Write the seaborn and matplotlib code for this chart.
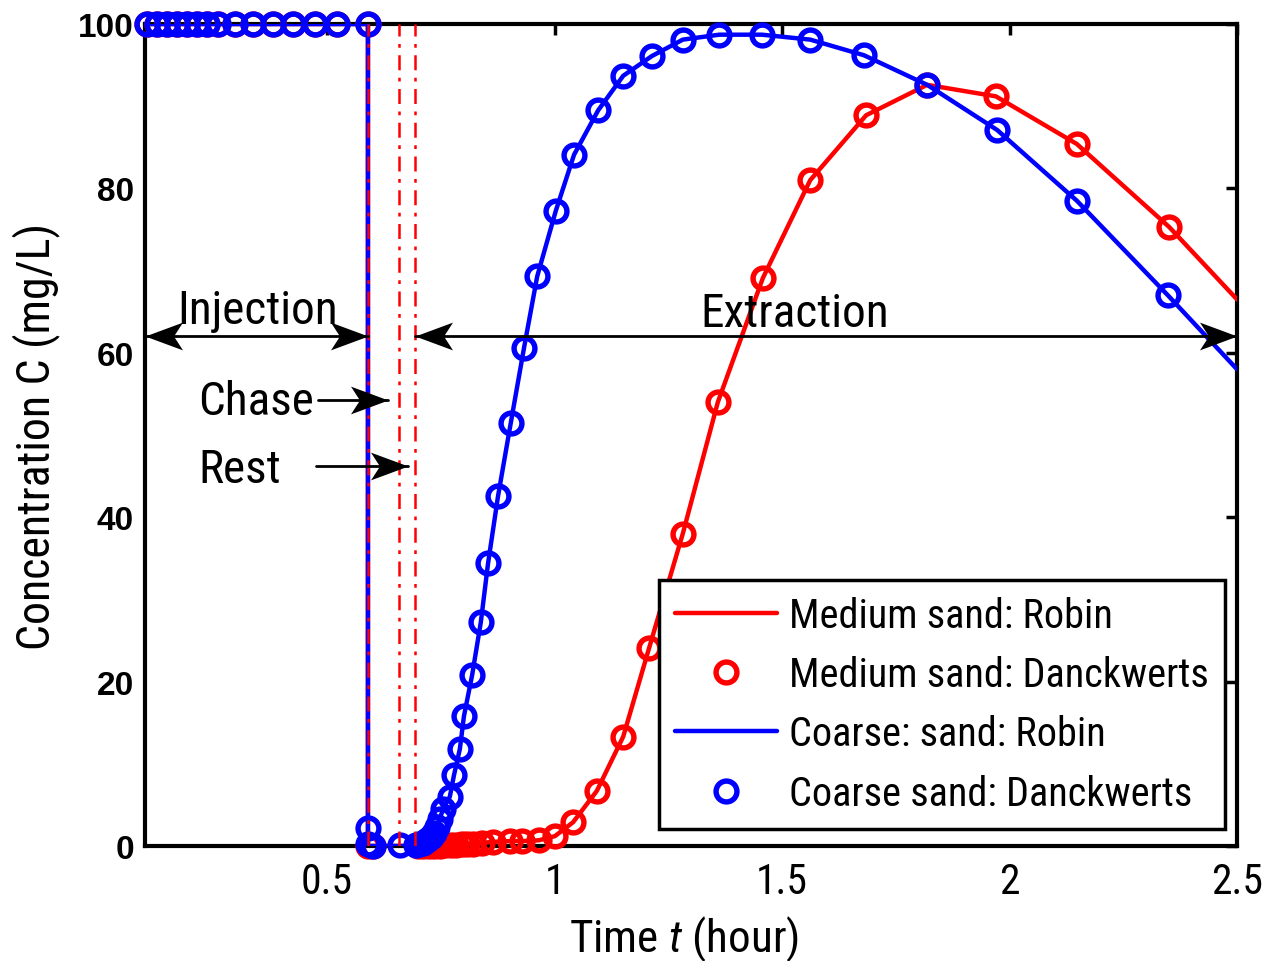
import matplotlib
matplotlib.use("Agg")
import matplotlib.pyplot as plt
import seaborn as sns
from matplotlib import font_manager
from matplotlib.path import Path
from matplotlib.lines import Line2D

# ---------------- data ----------------
coarse_dw_t = [0.104, 0.126, 0.148, 0.170, 0.192, 0.214, 0.236, 0.260, 0.297, 0.337,
               0.381, 0.425, 0.473, 0.523, 0.590,
               0.590, 0.590, 0.600, 0.660, 0.695, 0.703, 0.712, 0.720, 0.728, 0.735,
               0.742, 0.748, 0.755, 0.770, 0.779, 0.792, 0.801, 0.819, 0.838, 0.854,
               0.876, 0.904, 0.933, 0.962, 1.003, 1.043, 1.096, 1.151, 1.214, 1.282,
               1.362, 1.456, 1.562, 1.680, 1.819, 1.973, 2.148, 2.348]
coarse_dw_c = [100, 100, 100, 100, 100, 100, 100, 100, 100, 100,
               100, 100, 100, 100, 100,
               2.2, 0.3, 0.0, 0.1, 0.1, 0.2, 0.4, 0.7, 1.1, 1.6,
               2.3, 3.3, 4.5, 6.0, 8.6, 11.8, 15.8, 20.8, 27.2, 34.4,
               42.6, 51.5, 60.6, 69.3, 77.3, 84.1, 89.5, 93.7, 96.1, 98.1,
               98.7, 98.7, 98.1, 96.2, 92.6, 87.1, 78.5, 67.0]

coarse_robin_t = [0.100, 0.590, 0.590, 0.690, 0.703, 0.720, 0.735, 0.748, 0.755, 0.770,
                  0.779, 0.792, 0.801, 0.819, 0.838, 0.854, 0.876, 0.904, 0.933, 0.962,
                  1.003, 1.043, 1.096, 1.151, 1.214, 1.282, 1.362, 1.456, 1.562, 1.680,
                  1.819, 1.973, 2.148, 2.348, 2.500]
coarse_robin_c = [100, 100, 0, 0, 0.1, 0.7, 1.6, 3.3, 4.5, 6.0,
                  8.6, 11.8, 15.8, 20.8, 27.2, 34.4, 42.6, 51.5, 60.6, 69.3,
                  77.3, 84.1, 89.5, 93.7, 96.1, 98.1, 98.7, 98.7, 98.1, 96.2,
                  92.6, 87.1, 78.5, 67.0, 58.0]

medium_dw_t = [0.104, 0.126, 0.148, 0.170, 0.192, 0.214, 0.236, 0.260, 0.297, 0.337,
               0.381, 0.425, 0.473, 0.523, 0.590,
               0.590, 0.600, 0.700, 0.712, 0.724, 0.736, 0.748, 0.760, 0.772, 0.784,
               0.796, 0.808, 0.821, 0.840, 0.865, 0.902, 0.929, 0.966, 1.001, 1.041,
               1.093, 1.151, 1.208, 1.282, 1.359, 1.458, 1.562, 1.685, 1.819, 1.970,
               2.148, 2.351]
medium_dw_c = [100, 100, 100, 100, 100, 100, 100, 100, 100, 100,
               100, 100, 100, 100, 100,
               0.0, 0.0, 0.0, 0.0, 0.0, 0.0, 0.0, 0.1, 0.1, 0.1,
               0.2, 0.2, 0.3, 0.4, 0.5, 0.6, 0.6, 0.7, 1.2, 2.9,
               6.7, 13.3, 24.1, 38.0, 54.0, 69.1, 81.0, 88.9, 92.6, 91.2,
               85.4, 75.3]

medium_robin_t = [0.100, 0.590, 0.590, 0.760, 0.821, 0.865, 0.902, 0.929, 0.966, 1.001,
                  1.041, 1.093, 1.151, 1.208, 1.282, 1.359, 1.458, 1.562, 1.685, 1.819,
                  1.970, 2.148, 2.351, 2.500]
medium_robin_c = [100, 100, 0, 0, 0.3, 0.5, 0.6, 0.6, 0.7, 1.2,
                  2.9, 6.7, 13.3, 24.1, 38.0, 54.0, 69.1, 81.0, 88.9, 92.6,
                  91.2, 85.4, 75.3, 66.5]

phase_bounds = [0.590, 0.658, 0.693]   # end of injection, chase, rest
x_ticks = [0.5, 1, 1.5, 2, 2.5]
x_tick_labels = ["0.5", "1", "1.5", "2", "2.5"]
y_ticks = [0, 20, 40, 60, 80, 100]
legend_labels = ["Medium sand: Robin", "Medium sand: Danckwerts",
                 "Coarse: sand: Robin", "Coarse sand: Danckwerts"]

# ---------------- fonts ----------------
sns.set_style("white")
entries = font_manager.fontManager.ttflist
names = {f.name for f in entries}
narrow_family, narrow_stretch, fs = "Liberation Sans", "normal", 0.85
picked = False
for cand in ["Liberation Sans Narrow", "Arial Narrow", "Nimbus Sans Narrow",
             "Roboto Condensed", "Open Sans Condensed", "DejaVu Sans Condensed"]:
    if cand in names:
        narrow_family, narrow_stretch = cand, "normal"
        fs = 1.0 if cand != "DejaVu Sans Condensed" else 0.87
        picked = True
        break
if not picked:
    for fam in ["Roboto", "Open Sans", "Noto Sans", "DejaVu Sans"]:
        cond = [f for f in entries if f.name == fam and str(f.stretch) in
                ("condensed", "semi-condensed", "extra-condensed")
                and f.style == "normal"]
        if cond:
            narrow_family, narrow_stretch = fam, cond[0].stretch
            fs = 1.0 if fam in ("Roboto", "Open Sans") else 0.87
            break

plt.rcParams["font.family"] = [narrow_family, "DejaVu Sans"]
plt.rcParams["font.stretch"] = narrow_stretch
for k in ["text.color", "axes.labelcolor", "xtick.color", "ytick.color", "axes.edgecolor"]:
    plt.rcParams[k] = "black"
plt.rcParams["mathtext.fontset"] = "custom"
plt.rcParams["mathtext.rm"] = narrow_family
plt.rcParams["mathtext.it"] = narrow_family + ":italic"
bold_font = "Liberation Sans" if "Liberation Sans" in names else "DejaVu Sans"

# ---------------- figure ----------------
fig = plt.figure(figsize=(12.74, 9.62), dpi=100)
ax = fig.add_axes([145 / 1274, 1 - 847 / 962, 1092 / 1274, 822 / 962])

RED, BLUE = "#ff0000", "#0000ff"
LW, MS, MEW = 3.2, 15, 3.9

sns.lineplot(x=medium_robin_t, y=medium_robin_c, ax=ax, color=RED, lw=LW,
             sort=False, estimator=None, zorder=3)
sns.lineplot(x=medium_dw_t, y=medium_dw_c, ax=ax, sort=False, estimator=None,
             linestyle="none", marker="o", markersize=MS, markerfacecolor="none",
             markeredgecolor=RED, markeredgewidth=MEW, color=RED, zorder=4, clip_on=False)
sns.lineplot(x=coarse_robin_t, y=coarse_robin_c, ax=ax, color=BLUE, lw=LW,
             sort=False, estimator=None, zorder=5)
sns.lineplot(x=coarse_dw_t, y=coarse_dw_c, ax=ax, sort=False, estimator=None,
             linestyle="none", marker="o", markersize=MS, markerfacecolor="none",
             markeredgecolor=BLUE, markeredgewidth=MEW, color=BLUE, zorder=6, clip_on=False)

for xb in phase_bounds:
    ax.axvline(xb, color=RED, lw=1.8, ls=(0, (6, 3, 1.5, 3)), zorder=7)

# ---------------- arrows ----------------
head_r = Path([(0, 0), (-1, 0.37), (-0.76, 0), (-1, -0.37), (0, 0)],
              [Path.MOVETO, Path.LINETO, Path.LINETO, Path.LINETO, Path.CLOSEPOLY])
head_l = Path([(0, 0), (1, 0.37), (0.76, 0), (1, -0.37), (0, 0)],
              [Path.MOVETO, Path.LINETO, Path.LINETO, Path.LINETO, Path.CLOSEPOLY])
HEAD_MS = 54


def arrow(x0, x1, y, left_head, right_head):
    ax.plot([x0, x1], [y, y], color="black", lw=2.0, zorder=8, clip_on=False)
    if left_head:
        ax.plot([x0], [y], marker=head_l, markersize=HEAD_MS, color="black",
                markeredgewidth=0, zorder=8, clip_on=False)
    if right_head:
        ax.plot([x1], [y], marker=head_r, markersize=HEAD_MS, color="black",
                markeredgewidth=0, zorder=8, clip_on=False)


arrow(0.100, 0.590, 62.0, True, True)
arrow(0.693, 2.500, 62.0, True, True)
arrow(0.480, 0.634, 54.2, False, True)
arrow(0.476, 0.678, 46.2, False, True)

TFS = 34 * fs
ax.text(0.348, 63.6, "Injection", ha="center", va="baseline", fontsize=TFS, zorder=9)
ax.text(1.529, 63.3, "Extraction", ha="center", va="baseline", fontsize=TFS, zorder=9)
ax.text(0.217, 52.6, "Chase", ha="left", va="baseline", fontsize=TFS, zorder=9)
ax.text(0.217, 44.3, "Rest", ha="left", va="baseline", fontsize=TFS, zorder=9)

# ---------------- axes ----------------
ax.set_xlim(0.1, 2.5)
ax.set_ylim(0, 100)
ax.set_xticks(x_ticks)
ax.set_xticklabels(x_tick_labels, fontsize=30 * fs)
ax.set_yticks(y_ticks)
ax.set_yticklabels([str(v) for v in y_ticks], fontsize=24,
                   fontfamily=bold_font, fontweight="bold", fontstretch="normal")
ax.tick_params(direction="in", length=8, width=2.5, top=True, right=True,
               color="black", labelcolor="black")
ax.tick_params(axis="x", pad=11)
ax.tick_params(axis="y", pad=8)
for sp in ax.spines.values():
    sp.set_linewidth(3)
    sp.set_color("black")
    sp.set_zorder(2.5)
ax.grid(False)

ax.set_xlabel("Time $t$ (hour)", fontsize=32.5 * fs)
ax.xaxis.set_label_coords(0.4936, -0.082, transform=ax.transAxes)
ax.xaxis.label.set_verticalalignment("top")
ax.set_ylabel("Concentration C (mg/L)", fontsize=33 * fs, labelpad=13)

handles = [
    Line2D([], [], color=RED, lw=LW),
    Line2D([], [], color=RED, ls="none", marker="o", markersize=MS,
           markerfacecolor="none", markeredgewidth=MEW),
    Line2D([], [], color=BLUE, lw=LW),
    Line2D([], [], color=BLUE, ls="none", marker="o", markersize=MS,
           markerfacecolor="none", markeredgewidth=MEW),
]
leg = ax.legend(handles, legend_labels, loc="lower right",
                bbox_to_anchor=(0.989, 0.021), fontsize=29 * fs, frameon=True,
                fancybox=False, shadow=False, framealpha=1, edgecolor="black",
                handlelength=2.53, handletextpad=0.3, labelspacing=0.5,
                borderpad=0.4, borderaxespad=0, labelcolor="black")
leg.get_frame().set_linewidth(2.5)
leg.set_zorder(10)

fig.savefig("out.png", dpi=100)
